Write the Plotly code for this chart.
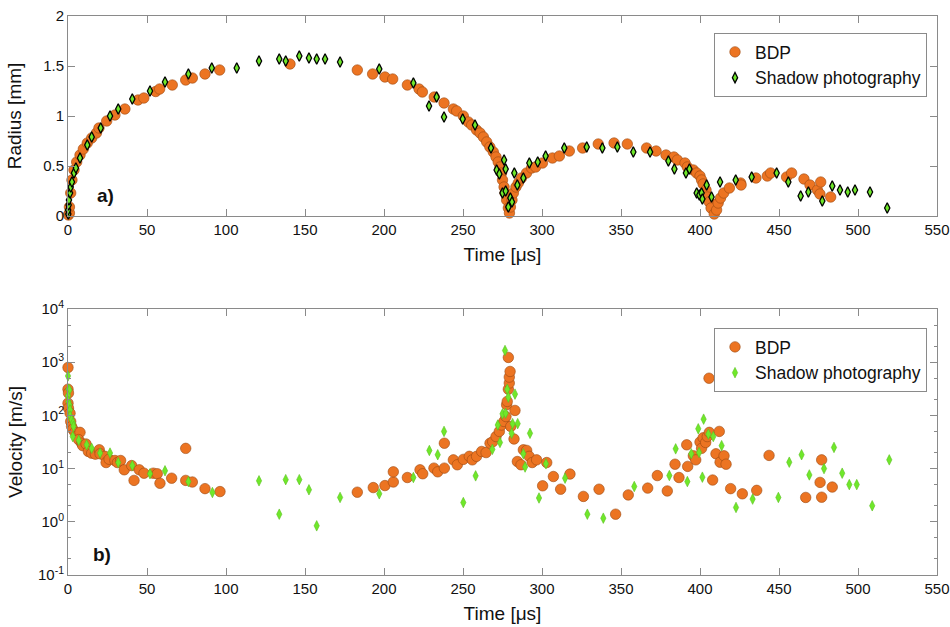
import plotly.graph_objects as go

# ---- Data: radius (panel a) ----
bdp_r_t = [0.3, 0.9, 0.9, 1.7, 2.5, 3.8, 5.5, 7.6, 9.7, 12.2, 15, 18, 19.6, 24.5, 29.7, 36, 44.3, 48,
           55.5, 58, 66, 74.5, 78.7, 86.7, 96, 140.5, 183.1, 192.8, 200.6, 205.5, 214.8, 222.2, 224.3,
           231.8, 238, 243.9, 246, 250.2, 253.4, 255.5, 258.6, 260.8, 262.9, 265, 267, 269.2, 270.9,
           272.3, 273.4, 274.4, 275, 276, 276.6, 277.6, 278.7, 279.4, 280, 281, 281.9, 283.5, 285, 287,
           290.2, 293.4, 296, 300.3, 306.6, 311, 317.3, 325.7, 335.6, 345.6, 354, 366.2, 372.2, 378.5,
           383.5, 385.7, 390.5, 392, 395.8, 397.9, 400, 401, 402, 403.8, 404.6, 405.9, 407, 409, 410.5,
           411.5, 413, 415, 418.6, 425.7, 426, 435.4, 442.6, 444.7, 454.8, 458, 465.8, 469.6, 474.3,
           475.9, 476.4, 482.7]
bdp_r = [0.01, 0.03, 0.09, 0.23, 0.36, 0.46, 0.54, 0.61, 0.67, 0.73, 0.78, 0.83, 0.88, 0.95, 1.01, 1.07,
         1.16, 1.18, 1.245, 1.27, 1.31, 1.36, 1.38, 1.42, 1.46, 1.52, 1.46, 1.42, 1.39, 1.37, 1.31, 1.27,
         1.24, 1.19, 1.13, 1.07, 1.05, 1.0, 0.94, 0.91, 0.86, 0.83, 0.79, 0.74, 0.69, 0.64, 0.59, 0.54,
         0.49, 0.43, 0.36, 0.29, 0.23, 0.16, 0.08, 0.03, 0.09, 0.16, 0.23, 0.29, 0.33, 0.38, 0.43, 0.48,
         0.49, 0.53, 0.58, 0.60, 0.65, 0.68, 0.72, 0.73, 0.72, 0.68, 0.65, 0.61, 0.59, 0.56, 0.53, 0.49,
         0.46, 0.43, 0.40, 0.36, 0.32, 0.26, 0.19, 0.14, 0.08, 0.02, 0.06, 0.13, 0.18, 0.23, 0.28, 0.33,
         0.31, 0.38, 0.40, 0.43, 0.39, 0.43, 0.37, 0.31, 0.26, 0.22, 0.34, 0.19]

sh_r_t = [0.2, 0.1, 0.4, 0.6, 1.3, 1.7, 2.5, 3.8, 5, 7.6, 12.2, 15, 20.7, 26.6, 31.8, 40.7, 51.9, 61.4,
          76.2, 91, 106.8, 120.9, 133.7, 137.8, 146.4, 152.5, 157.4, 162.7, 172.2, 197, 218.6, 228.5,
          233.3, 238, 249.8, 257.6, 267.7, 271.3, 273, 276, 277, 275, 277, 278.7, 280, 281, 282.5, 284.4,
          288.2, 292, 297.3, 302.3, 314.1, 328.3, 338.2, 347.7, 357.8, 368.4, 380, 383.8, 391.1, 393.3,
          397.9, 399.6, 401, 401.5, 404.2, 407.3, 412.7, 422.6, 432.7, 448.5, 455.9, 463.7, 468.6, 477.4,
          483.7, 488.6, 493.5, 498.1, 507.6, 518.5]
sh_r = [0.02, 0.06, 0.11, 0.16, 0.23, 0.29, 0.34, 0.43, 0.48, 0.58, 0.71, 0.79, 0.88, 1.0, 1.07, 1.17,
        1.25, 1.34, 1.42, 1.48, 1.48, 1.55, 1.57, 1.55, 1.60, 1.58, 1.57, 1.57, 1.54, 1.47, 1.33, 1.10,
        1.19, 0.99, 0.97, 0.91, 0.68, 0.46, 0.42, 0.56, 0.47, 0.23, 0.25, 0.09, 0.18, 0.14, 0.43, 0.31,
        0.38, 0.53, 0.54, 0.60, 0.68, 0.69, 0.68, 0.69, 0.64, 0.64, 0.55, 0.47, 0.43, 0.47, 0.23, 0.21,
        0.23, 0.17, 0.31, 0.19, 0.34, 0.36, 0.39, 0.43, 0.34, 0.20, 0.24, 0.15, 0.30, 0.26, 0.24, 0.26,
        0.24, 0.08]

# ---- Data: velocity (panel b) ----
bdp_v_t = [0, 0, 0.3, 0, 0.3, 1.3, 1.7, 2.3, 3, 4.4, 5.9, 7.6, 6.7, 8.6, 9.3, 11.4, 12.9, 15, 17.3, 19.8,
           20.3, 23.4, 24.1, 26, 29.7, 31.3, 33.3, 35.6, 40.3, 41.8, 45.1, 48.1, 54, 56.5, 58.2, 65.6, 74.5,
           74.5, 78.7, 86.7, 96.2, 183.1, 193.2, 200.6, 205.9, 205.9, 214.8, 222.8, 224.5, 231.6, 234,
           238.2, 238.2, 243.9, 246.4, 250.2, 254, 255.9, 258.6, 261.8, 264.6, 267.1, 268.8, 270.9, 273,
           274.4, 275.9, 277.2, 277.6, 278, 278.7, 279.3, 279.3, 279.8, 278.7, 280.2, 282.3, 282.9, 288.2,
           290.3, 284.4, 286.7, 291.9, 293.8, 296.6, 300.4, 303, 307.2, 311.8, 317.7, 326.2, 336.1, 346.6,
           354.6, 366.9, 373, 379.3, 384.2, 386.7, 391.6, 392.2, 395.8, 397.3, 400, 401, 402, 403.6, 404.6,
           405.9, 405.7, 408, 410.1, 412.2, 412.7, 415.2, 416.5, 419.4, 426.8, 435.9, 443.7, 466.9, 476,
           477, 477, 483.7]
bdp_v = [795, 311, 263, 170, 137, 110, 77, 62, 55, 48, 41, 48, 35, 30, 27, 29, 21, 19.5, 18.7, 22.6, 19,
         17, 13, 15, 14.2, 13, 14.2, 9.5, 11.4, 6.0, 9.5, 8.2, 8.2, 8.0, 5.3, 6.6, 24, 6.0, 5.6, 4.2, 3.7,
         3.6, 4.4, 4.8, 5.6, 8.7, 6.8, 9.5, 8.0, 10.2, 8.7, 10.2, 30, 14.6, 11.8, 14.9, 17, 14.6, 17, 21, 20,
         30, 32, 40, 50, 66, 77, 95, 158, 183, 311, 405, 525, 670, 1230, 62, 36, 124, 22.6, 22, 13.6, 11.8,
         17, 13, 14.6, 4.75, 13, 7.1, 4.1, 7.9, 3.0, 4.1, 1.39, 3.2, 4.3, 7.4, 3.8, 12.1, 6.8, 28, 11, 17.4,
         14.6, 31.5, 24, 38, 31, 40, 48, 500, 6.1, 19, 50, 13.2, 17.4, 12.1, 4.2, 3.36, 3.9, 17.7, 2.87,
         5.5, 14.6, 2.9, 4.5]

sh_v_t = [0, 0.3, 0.9, 0, 0.3, 0.9, 1.3, 1.3, 2.3, 3.2, 3.5, 3, 6.8, 11.8, 15, 20.3, 26.6, 31.8, 40.7,
          51.9, 61.4, 76.2, 91.4, 120.9, 133.7, 137.8, 146.4, 152.5, 157.4, 172.2, 197, 218.6, 228.7, 234,
          238, 250.2, 258, 268.6, 272, 273.4, 275, 276.6, 277, 278, 278.7, 280.8, 281.4, 282.9, 284.6,
          288.2, 289.3, 292.4, 298.1, 302.5, 314.6, 328.7, 338.8, 358.4, 380.6, 384.6, 392, 394.5, 398.9,
          399.4, 401.5, 402.3, 405.3, 408.4, 413.7, 422.8, 433.3, 449.6, 456.5, 464.3, 469.2, 478.5, 484.8,
          490, 494.5, 499.2, 509, 519.8]
sh_v = [552, 311, 300, 234, 183, 158, 127, 98, 83, 72, 62, 40, 34, 28, 24, 19.6, 19.6, 13, 11.4, 8.0, 9.1,
        5.7, 3.55, 5.9, 1.39, 6.2, 6.2, 4.0, 0.84, 2.87, 3.36, 6.8, 21.9, 18.2, 50, 2.3, 7.3, 23, 66, 31,
        107, 1660, 110, 311, 220, 46, 70, 251, 70, 19, 10.7, 46, 2.8, 12.3, 6.6, 1.39, 1.17, 4.6, 7.4,
        23.5, 5.7, 19, 56, 20, 6.9, 85, 44.5, 40, 27, 1.86, 2.67, 2.87, 13.2, 18.2, 7.6, 10, 25, 8.2, 5.0,
        5.0, 2.0, 14.6]

series_names = ["BDP", "Shadow photography"]
x_ticks = [0, 50, 100, 150, 200, 250, 300, 350, 400, 450, 500, 550]
v_tickvals = [0.1, 1, 10, 100, 1000, 10000]
v_ticktext = ["10<sup>-1</sup>", "10<sup>0</sup>", "10<sup>1</sup>", "10<sup>2</sup>",
              "10<sup>3</sup>", "10<sup>4</sup>"]

ORANGE = "#EC7422"
ORANGE_EDGE = "#9C4A12"
GREEN = "#6FE82A"
FRAME = "#8a8a8a"
FONT = "Liberation Sans, Arial, sans-serif"

fig = go.Figure()

fig.add_trace(go.Scatter(x=bdp_r_t, y=bdp_r, mode="markers", name=series_names[0],
                         marker=dict(symbol="circle", size=10.5, color=ORANGE,
                                     line=dict(color=ORANGE_EDGE, width=0.6)),
                         cliponaxis=False, xaxis="x", yaxis="y", legend="legend"))
fig.add_trace(go.Scatter(x=sh_r_t, y=sh_r, mode="markers", name=series_names[1],
                         marker=dict(symbol="diamond-tall", size=7.5, color=GREEN,
                                     line=dict(color="#000000", width=1.3)),
                         cliponaxis=False, xaxis="x", yaxis="y", legend="legend"))
fig.add_trace(go.Scatter(x=bdp_v_t, y=bdp_v, mode="markers", name=series_names[0],
                         marker=dict(symbol="circle", size=10.5, color=ORANGE,
                                     line=dict(color=ORANGE_EDGE, width=0.6)),
                         cliponaxis=False, xaxis="x2", yaxis="y2", legend="legend2"))
fig.add_trace(go.Scatter(x=sh_v_t, y=sh_v, mode="markers", name=series_names[1],
                         marker=dict(symbol="diamond-tall", size=7.5, color=GREEN,
                                     line=dict(color="#5cc020", width=0.6)),
                         cliponaxis=False, xaxis="x2", yaxis="y2", legend="legend2"))

# body margin is reset to 0 by the post script, so lay out in screen pixels
W, H = 950, 627
L = 68
R = W - 937
PW = W - L - R

def ydom(top_px, bot_px):
    return [1 - bot_px / H, 1 - top_px / H]

axis_common = dict(showline=True, linecolor=FRAME, linewidth=1, mirror="ticks",
                   ticks="inside", tickcolor=FRAME, ticklen=7, showgrid=False, zeroline=False,
                   automargin=False, ticklabeloverflow="allow",
                   tickfont=dict(family=FONT, size=15, color="#111"))

LEG_X = (714 - L) / PW

fig.update_layout(
    width=W, height=H,
    margin=dict(l=L, r=R, t=0, b=0, autoexpand=False),
    paper_bgcolor="white", plot_bgcolor="white",
    font=dict(family=FONT, color="#111"),
    xaxis=dict(domain=[0, 1], anchor="y", range=[0, 550], tickvals=x_ticks,
               title=dict(text="Time [μs]", font=dict(size=19), standoff=10), **axis_common),
    yaxis=dict(domain=ydom(16, 216), anchor="x", range=[0, 2], dtick=0.5,
               title=dict(text="Radius [mm]", font=dict(size=19), standoff=16), **axis_common),
    xaxis2=dict(domain=[0, 1], anchor="y2", range=[0, 550], tickvals=x_ticks,
                title=dict(text="Time [μs]", font=dict(size=19), standoff=10), **axis_common),
    yaxis2=dict(domain=ydom(309, 575), anchor="x2", type="log", range=[-1, 4],
                tickvals=v_tickvals, ticktext=v_ticktext,
                minor=dict(ticks="inside", ticklen=3, tickcolor=FRAME),
                title=dict(text="Velocity [m/s]", font=dict(size=19), standoff=10), **axis_common),
    legend=dict(x=LEG_X, y=1 - 33 / H, xanchor="left", yanchor="top",
                bgcolor="white", bordercolor=FRAME, borderwidth=1, itemwidth=30,
                font=dict(family=FONT, size=17.5, color="#111"), tracegroupgap=0,
                itemsizing="trace"),
    legend2=dict(x=LEG_X, y=1 - 328 / H, xanchor="left", yanchor="top",
                 bgcolor="white", bordercolor=FRAME, borderwidth=1, itemwidth=30,
                 font=dict(family=FONT, size=17.5, color="#111"), tracegroupgap=0,
                 itemsizing="trace"),
    showlegend=True,
    annotations=[
        dict(text="<b>a)</b>", xref="x", yref="y", x=24, y=0.2, showarrow=False,
             font=dict(family=FONT, size=19, color="#111")),
        dict(text="<b>b)</b>", xref="x2", yref="y2", x=21.5, y=-0.62, showarrow=False,
             font=dict(family=FONT, size=19, color="#111")),
    ],
)

fig.write_html("out.html", config={"displayModeBar": False},
               post_script="document.body.style.margin='0';document.body.style.overflow='hidden';")
